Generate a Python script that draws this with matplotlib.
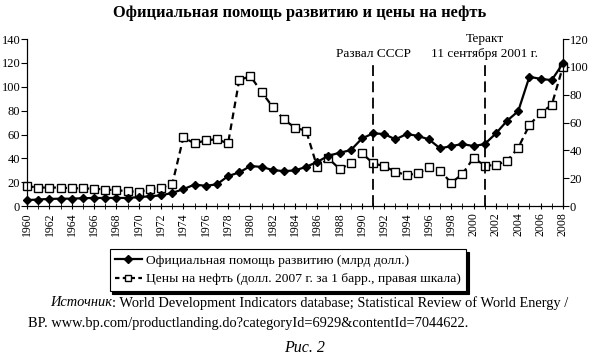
import matplotlib
matplotlib.use("Agg")
import matplotlib.pyplot as plt
from matplotlib.lines import Line2D

plt.rcParams['font.family'] = ['Liberation Serif', 'DejaVu Serif']

years = list(range(1960, 2009))
# официальная помощь развитию, млрд долл. (левая шкала)
aid = [5.0, 5.5, 6.0, 6.2, 6.2, 6.6, 6.8, 6.8, 6.8, 6.8,
       7.5, 8.2, 9.0, 11.0, 14.2, 18.0, 17.0, 18.2, 25.1, 28.2,
       33.5, 32.9, 30.2, 29.3, 29.9, 32.9, 37.1, 42.2, 44.7, 46.9,
       56.7, 61.0, 60.4, 55.9, 60.4, 58.9, 55.9, 48.4, 50.3, 52.0,
       50.3, 52.0, 60.9, 71.5, 79.6, 108.4, 106.7, 105.6, 119.6]
# цены на нефть, долл. 2007 г. за баррель (правая шкала)
oil = [14.3, 13.3, 13.3, 13.3, 12.8, 12.8, 12.4, 11.9, 11.4, 10.7,
       10.2, 12.1, 13.3, 15.7, 49.4, 45.0, 47.2, 48.1, 45.0, 90.5,
       93.4, 82.1, 71.3, 62.3, 56.3, 54.1, 27.8, 34.3, 26.6, 30.7,
       38.0, 30.7, 28.7, 24.6, 22.3, 23.5, 27.8, 25.4, 16.7, 23.0,
       34.7, 29.0, 29.5, 32.5, 41.9, 58.2, 67.0, 72.6, 100.1]
events = [1991, 2001]
event_labels = ['Развал СССР', 'Теракт\n11 сентября 2001 г.']
year_ticks = list(range(1960, 2009, 2))

fig = plt.figure(figsize=(5.9, 3.59), dpi=100)
ax = fig.add_axes([0.046, 0.426, 0.908, 0.465])
ax2 = ax.twinx()

ax2.plot(years, oil, ls=(0, (3, 2)), color='black', lw=1.6, marker='s',
         ms=5.5, mfc='white', mec='black', mew=1.0, clip_on=False, zorder=2)
ax.plot(years, aid, color='black', lw=1.6, marker='D', ms=4.5,
        clip_on=False, zorder=3)
ax.set_zorder(ax2.get_zorder() + 1)
ax.patch.set_visible(False)

ax.set_xlim(1960, 2008)
ax.set_ylim(0, 140)
ax2.set_ylim(0, 120)
ax.set_yticks(range(0, 141, 20))
ax2.set_yticks(range(0, 121, 20))
ax.set_xticks(years, minor=True)
ax.set_xticks(year_ticks)
ax.set_xticklabels([str(y) for y in year_ticks], rotation=90, fontsize=8.5)
ax.tick_params(axis='x', which='both', direction='inout', length=5, pad=2)
ax.tick_params(axis='y', labelsize=9, length=4, pad=1)
ax2.tick_params(axis='y', labelsize=9, length=4, pad=1)
for a in (ax, ax2):
    a.spines['top'].set_visible(False)

for yr, lab in zip(events, event_labels):
    ax.plot([yr, yr], [0, 122], color='black', lw=1.3, ls=(0, (6, 3)), zorder=1)
    ax.text(yr, 125, lab, ha='center', va='baseline', fontsize=9.5,
            linespacing=1.3)

fig.text(0.508, 0.965, 'Официальная помощь развитию и цены на нефть',
         ha='center', va='center', fontsize=11.8, fontweight='bold')

handles = [
    Line2D([], [], color='black', lw=1.6, marker='D', ms=4),
    Line2D([], [], color='black', lw=1.6, ls=(0, (2, 1.5)), marker='s', ms=4.5,
           mfc='white', mec='black'),
]
leg = fig.legend(handles,
                 ['Официальная помощь развитию (млрд долл.)',
                  'Цены на нефть (долл. 2007 г. за 1 барр., правая шкала)'],
                 loc='upper center', bbox_to_anchor=(0.488, 0.325),
                 fontsize=9.7, frameon=True, fancybox=False,
                 shadow={'color': 'black', 'alpha': 1.0}, handlelength=2.0,
                 handletextpad=0.3, borderpad=0.4, labelspacing=0.45,
                 edgecolor='black')
leg.get_frame().set_linewidth(0.8)

fig.canvas.draw()
r = fig.canvas.get_renderer()
t = fig.text(50 / 590, 1 - 303 / 359, 'Источник', style='italic',
             fontsize=10.4, va='center', ha='left')
bb = t.get_window_extent(r)
fig.text(bb.x1 / fig.bbox.width, 1 - 303 / 359,
         ': World Development Indicators database; Statistical Review of World Energy /',
         fontsize=10.4, va='center', ha='left')
fig.text(28 / 590, 1 - 323 / 359,
         'BP. www.bp.com/productlanding.do?categoryId=6929&contentId=7044622.',
         fontsize=10.4, va='center', ha='left')
fig.text(0.517, 1 - 348 / 359, 'Рис. 2', style='italic', fontsize=11.5,
         ha='center', va='center')

fig.savefig('out.png', dpi=100)
